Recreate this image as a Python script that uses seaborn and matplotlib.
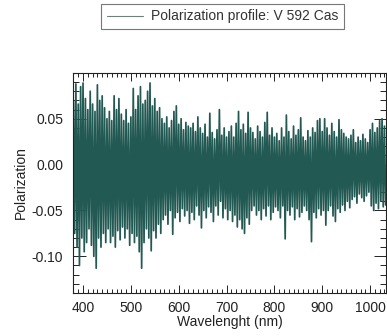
import numpy as np
import pandas as pd
import matplotlib
matplotlib.use("Agg")
import matplotlib.pyplot as plt
from matplotlib.ticker import MultipleLocator
from matplotlib.lines import Line2D
import seaborn as sns

# Sample wavelengths (nm), every 5 nm
wavelength = np.arange(380, 1031, 5)

# Upper excursions of the polarization trace at each sample
pol_upper = [
    0.070, 0.088, 0.066, 0.085, 0.089,
    0.072, 0.060, 0.080, 0.066, 0.058, 0.087, 0.070, 0.075, 0.062,
    0.050, 0.058, 0.048, 0.075, 0.060, 0.072, 0.055,
    0.048, 0.060, 0.045, 0.052, 0.083,
    0.060, 0.075, 0.085, 0.066, 0.070, 0.080, 0.089, 0.064,
    0.072, 0.058, 0.062, 0.050,
    0.045, 0.052, 0.040, 0.048, 0.058, 0.064, 0.044, 0.050, 0.038, 0.046, 0.042,
    0.040, 0.045, 0.036, 0.052, 0.040, 0.034, 0.044, 0.030,
    0.056, 0.035, 0.028, 0.038, 0.060, 0.032, 0.040, 0.030,
    0.036, 0.042, 0.030, 0.045, 0.058, 0.038, 0.044, 0.034, 0.057, 0.040,
    0.035, 0.028, 0.042, 0.036, 0.030, 0.046, 0.057, 0.032, 0.040, 0.030,
    0.034, 0.026, 0.040, 0.030, 0.054, 0.036, 0.028, 0.042, 0.032, 0.038, 0.051, 0.030,
    0.026, 0.037, 0.030, 0.040, 0.035, 0.048, 0.050, 0.036,
    0.050, 0.040, 0.032, 0.045, 0.036, 0.030, 0.049, 0.038, 0.034, 0.030,
    0.028, 0.032, 0.038, 0.024, 0.030, 0.026, 0.033, 0.028, 0.024,
    0.038, 0.045, 0.035, 0.040, 0.048, 0.050, 0.042,
]

# Lower excursions of the polarization trace
pol_lower = [
    -0.075, -0.090, -0.110, -0.080, -0.095,
    -0.085, -0.070, -0.088, -0.100, -0.113, -0.080, -0.090, -0.075, -0.085,
    -0.070, -0.085, -0.078, -0.090, -0.072, -0.082, -0.068,
    -0.080, -0.070, -0.088, -0.075, -0.085,
    -0.078, -0.095, -0.113, -0.085, -0.070, -0.080, -0.094, -0.072,
    -0.080, -0.065, -0.075, -0.060,
    -0.055, -0.065, -0.050, -0.076, -0.058, -0.052, -0.062, -0.048, -0.056, -0.050, -0.064,
    -0.052, -0.060, -0.045, -0.055, -0.069, -0.050, -0.058, -0.046,
    -0.052, -0.062, -0.045, -0.055, -0.040, -0.058, -0.048, -0.060,
    -0.050, -0.062, -0.055, -0.068, -0.060, -0.070, -0.075, -0.058, -0.065, -0.050,
    -0.045, -0.055, -0.050, -0.060, -0.048, -0.056, -0.045, -0.060, -0.052, -0.046,
    -0.050, -0.058, -0.045, -0.081, -0.050, -0.055, -0.046, -0.060, -0.048, -0.057, -0.052, -0.045,
    -0.050, -0.060, -0.084, -0.052, -0.058, -0.048, -0.055, -0.050,
    -0.066, -0.050, -0.045, -0.056, -0.062, -0.048, -0.052, -0.044, -0.050, -0.040,
    -0.047, -0.038, -0.035, -0.042, -0.032, -0.036, -0.040, -0.034, -0.030,
    -0.045, -0.050, -0.042, -0.048, -0.040, -0.046, -0.044,
]

series_label = "Polarization profile: V 592 Cas"
x_label = "Wavelenght (nm)"
y_label = "Polarization"

# Build the trace: it swings from the upper excursion to the lower one within each sample
wl = np.asarray(wavelength, dtype=float)
xs = np.column_stack([wl, wl + 2.5]).ravel()
ys = np.column_stack([pol_upper, pol_lower]).ravel()
df = pd.DataFrame({"wavelength": xs, "polarization": ys, "series": series_label})

sns.set_style("ticks")
plt.rcParams["font.family"] = ["Liberation Sans", "DejaVu Sans"]

fig = plt.figure(figsize=(3.87, 3.36), dpi=100)
ax = fig.add_axes([0.1886, 0.128, 0.8085, 0.655])

color = "#235953"
sns.lineplot(data=df, x="wavelength", y="polarization", hue="series",
             palette=[color], estimator=None, sort=False, linewidth=1.25,
             ax=ax, legend=False)

ax.set_xlim(379, 1033)
ax.set_ylim(-0.14, 0.10)
ax.set_xticks([400, 500, 600, 700, 800, 900, 1000])
ax.set_yticks([-0.10, -0.05, 0.00, 0.05])
ax.set_yticklabels(["-0.10", "-0.05", "0.00", "0.05"])
ax.xaxis.set_minor_locator(MultipleLocator(10))
ax.yaxis.set_minor_locator(MultipleLocator(0.01))

ax.tick_params(axis="both", which="both", direction="in", top=True, right=True,
               labelsize=10, colors="#222222", width=0.7)
ax.tick_params(axis="x", which="major", length=6, pad=6)
ax.tick_params(axis="x", which="minor", length=3)
ax.tick_params(axis="y", which="major", length=9, pad=7)
ax.tick_params(axis="y", which="minor", length=4.5)
for s in ax.spines.values():
    s.set_linewidth(0.8)
    s.set_color("#222222")

ax.set_xlabel(x_label, fontsize=10, color="#222222", labelpad=0)
ax.set_ylabel(y_label, fontsize=10, color="#222222", labelpad=2.5)

handle = Line2D([], [], color="#6f7f7c", linewidth=0.8)
leg = fig.legend([handle], [series_label], loc="center",
                 bbox_to_anchor=(0.575, 0.951), fontsize=10, frameon=True,
                 fancybox=False, handlelength=2.6, borderpad=0.4,
                 handletextpad=0.6)
leg.get_frame().set_edgecolor("#555555")
leg.get_frame().set_linewidth(0.8)
for t in leg.get_texts():
    t.set_color("#333333")

fig.savefig("out.png", dpi=100)
